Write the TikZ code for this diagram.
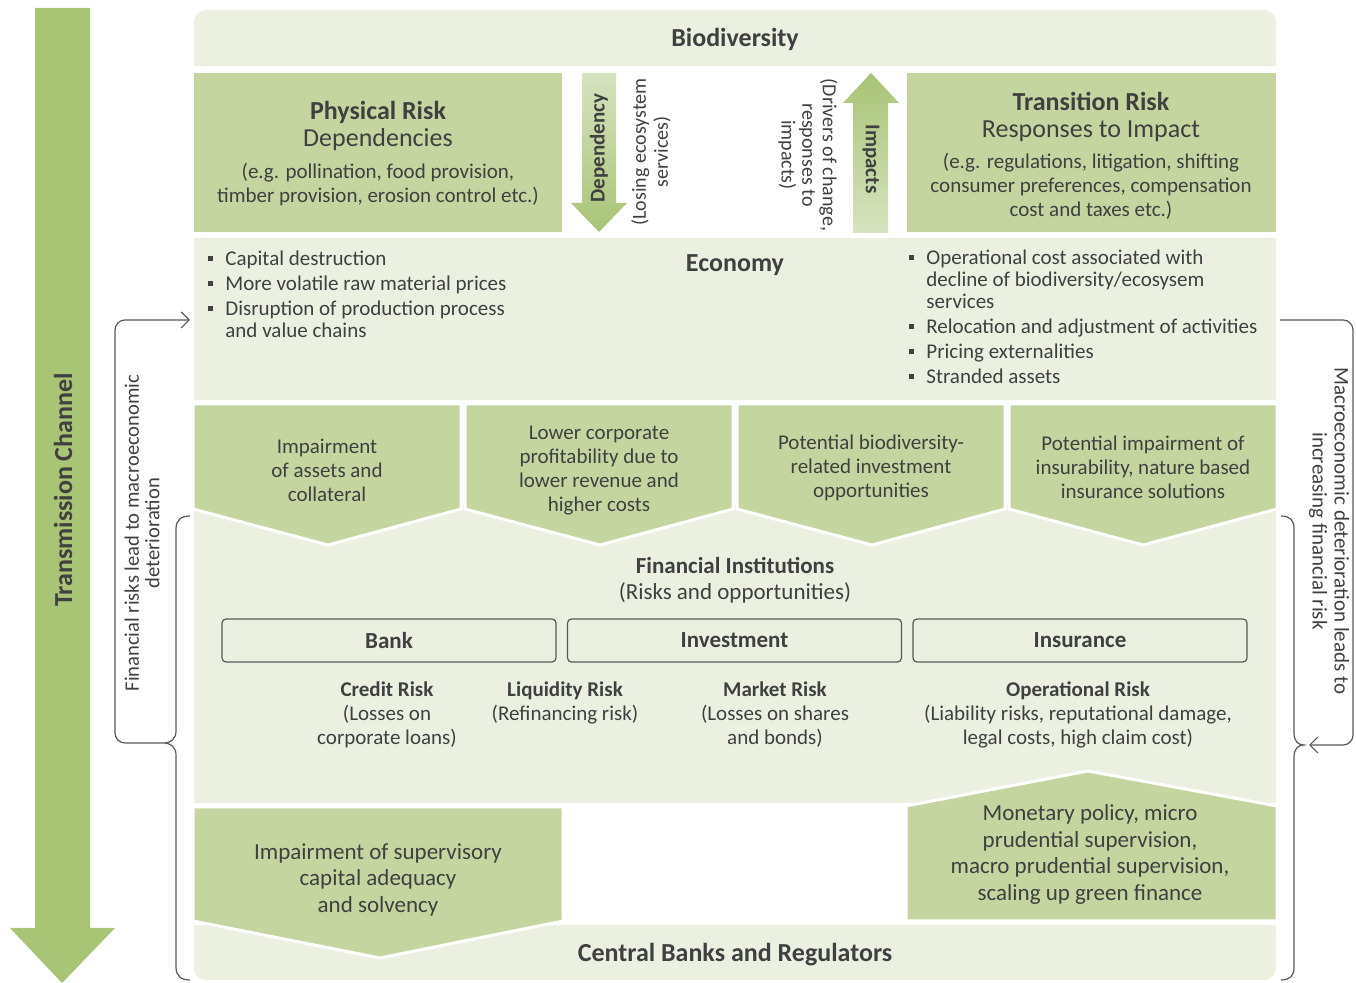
\documentclass[tikz,border=0pt]{standalone}
\usepackage{fontspec}
\setmainfont{Carlito}
\usetikzlibrary{arrows.meta}

\definecolor{midgreen}{HTML}{C4D59F}
\definecolor{lightgreen}{HTML}{EBF0E1}
\definecolor{arrowgreen}{HTML}{A8C475}
\definecolor{arrowpale}{HTML}{E3EBD4}
\definecolor{arrowsoft}{HTML}{D6E3C0}
\definecolor{ink}{HTML}{404040}
\definecolor{lineg}{HTML}{595959}

\newcommand\fsBody{\fontsize{10.5}{12}\selectfont}
\newcommand\fsHead{\fontsize{13}{13.5}\selectfont}
\newcommand\fsMid{\fontsize{11.5}{13.25}\selectfont}
\newcommand\sqbullet{\raisebox{0.22em}{\rule{0.24em}{0.24em}}}

\begin{document}
\begin{tikzpicture}[x=0.5pt,y=-0.5pt,
  txt/.style={text=ink, align=center, inner sep=0pt, font=\fsBody, yshift=-1.25pt},
  headtxt/.style={text=ink, align=center, inner sep=0pt, font=\fsHead\bfseries, yshift=-1.25pt},
  chev/.style={fill=midgreen, draw=white, line width=1.5pt, line join=miter},
  fibox/.style={draw=lineg, line width=0.6pt, rounded corners=2pt, text=ink,
    font=\fsMid\bfseries, minimum width=167pt, minimum height=21.5pt, inner sep=0pt},
  bitem/.style={anchor=base west, align=left, inner sep=0pt, text=ink,
    font=\fontsize{10.5}{11}\selectfont},
  bracket/.style={draw=lineg, line width=0.6pt},
  barb/.style={-{Straight Barb[length=4pt,width=8pt]}}]

\useasboundingbox (0,0) rectangle (1356,983);

% transmission channel arrow
\shade[top color=arrowgreen, middle color=arrowpale, bottom color=arrowgreen]
  (35,8) -- (90,8) -- (90,928) -- (115,928) -- (62,983) -- (10,928) -- (35,928) -- cycle;
\node[text=ink, inner sep=0pt, font=\fsHead\bfseries, rotate=90] (tc) at (63,490) {Transmission Channel};

% biodiversity band
\fill[lightgreen, rounded corners=6pt] (194,10) rectangle (1276,66);
\fill[lightgreen] (194,35) rectangle (1276,66);
\node[headtxt] (bio) at (735,37) {Biodiversity};

% physical and transition risk
\fill[midgreen] (194,73) rectangle (562,232);
\fill[midgreen] (907,73) rectangle (1276,232);
\node[txt, font=\fsHead] (phys) at (378,123) {\textbf{Physical Risk}\\Dependencies};
\node[txt] (physx) at (378,182) {(e.g. pollination, food provision,\\timber provision, erosion control etc.)};
\node[txt, font=\fsHead] (trans) at (1091,114) {\textbf{Transition Risk}\\Responses to Impact};
\node[txt] (transx) at (1091,184) {(e.g. regulations, litigation, shifting\\consumer preferences, compensation\\cost and taxes etc.)};

% dependency and impact arrows
\shade[top color=arrowsoft, bottom color=arrowgreen]
  (582,73) -- (616,73) -- (616,203) -- (627,203) -- (599,232) -- (571,203) -- (582,203) -- cycle;
\shade[top color=arrowgreen, bottom color=arrowsoft]
  (853,233) -- (853,103) -- (843,103) -- (871,73) -- (899,103) -- (888,103) -- (888,233) -- cycle;
\node[text=ink, inner sep=0pt, font=\fsBody\bfseries, rotate=90] (dep) at (599,148) {Dependency};
\node[text=ink, inner sep=0pt, font=\fsBody\bfseries, rotate=-90] (imp) at (871,159) {Impacts};
\node[text=ink, align=center, inner sep=0pt, font=\fontsize{10}{11}\selectfont, rotate=90] (losing) at (651,152) {(Losing ecosystem\\services)};
\node[text=ink, align=center, inner sep=0pt, font=\fontsize{10}{10.3}\selectfont, rotate=-90] (drivers) at (808,155) {(Drivers of change,\\responses to\\impacts)};

% economy band
\fill[lightgreen] (194,238) rectangle (1276,400);
\node[headtxt] (eco) at (735,263) {Economy};
\node[bitem] (e1) at (225,266) {\llap{\sqbullet\hspace{6pt}}Capital destruction};
\node[bitem] (e2) at (225,291) {\llap{\sqbullet\hspace{6pt}}More volatile raw material prices};
\node[bitem] (e3) at (225,338) {\llap{\sqbullet\hspace{6pt}}Disruption of production process\\and value chains};
\node[bitem] (t1) at (926,309) {\llap{\sqbullet\hspace{6pt}}Operational cost associated with\\decline of biodiversity/ecosysem\\services};
\node[bitem] (t2) at (926,334) {\llap{\sqbullet\hspace{6pt}}Relocation and adjustment of activities};
\node[bitem] (t3) at (926,359) {\llap{\sqbullet\hspace{6pt}}Pricing externalities};
\node[bitem] (t4) at (926,384) {\llap{\sqbullet\hspace{6pt}}Stranded assets};

% financial institutions band
\fill[lightgreen] (194,505) rectangle (1276,803);

% transmission chevrons
\draw[chev] (193,404) -- (461,404) -- (461,509) -- (328,545) -- (193,509) -- cycle;
\draw[chev] (465,404) -- (733,404) -- (733,509) -- (600,545) -- (465,509) -- cycle;
\draw[chev] (737,404) -- (1005,404) -- (1005,509) -- (872,545) -- (737,509) -- cycle;
\draw[chev] (1009,404) -- (1277,404) -- (1277,509) -- (1143,545) -- (1009,509) -- cycle;
\node[txt] (c1) at (327,468) {Impairment\\of assets and\\collateral};
\node[txt] (c2) at (599,468) {Lower corporate\\profitability due to\\lower revenue and\\higher costs};
\node[txt] (c3) at (871,465) {Potential biodiversity-\\related investment\\opportunities};
\node[txt] (c4) at (1143,465) {Potential impairment of\\insurability, nature based\\insurance solutions};

\node[txt, font=\fsMid] (fi) at (735,578) {\textbf{Financial Institutions}\\(Risks and opportunities)};
\node[fibox] (bank) at (389,640.5) {Bank};
\node[fibox] (inv) at (734.5,640.5) {Investment};
\node[fibox] (ins) at (1080,640.5) {Insurance};

\node[txt] (credit) at (387,712) {\textbf{Credit Risk}\\(Losses on\\corporate loans)};
\node[txt] (liq) at (565,700) {\textbf{Liquidity Risk}\\(Refinancing risk)};
\node[txt] (market) at (775,712) {\textbf{Market Risk}\\(Losses on shares\\and bonds)};
\node[txt] (oper) at (1078,712) {\textbf{Operational Risk}\\(Liability risks, reputational damage,\\legal costs, high claim cost)};

% central banks band
\fill[lightgreen, rounded corners=6pt] (194,925) rectangle (1276,980);
\fill[lightgreen] (194,925) rectangle (1276,950);
\draw[chev] (193,807) -- (563,807) -- (563,921) -- (380,958) -- (193,921) -- cycle;
\draw[chev] (906,921) -- (906,806) -- (1088,771) -- (1277,806) -- (1277,921) -- cycle;
\node[txt, font=\fsMid] (solv) at (378,877) {Impairment of supervisory\\capital adequacy\\and solvency};
\node[txt, font=\fsMid] (policy) at (1090,852) {Monetary policy, micro\\prudential supervision,\\macro prudential supervision,\\scaling up green finance};
\node[headtxt] (cb) at (735,952) {Central Banks and Regulators};

% feedback loop, left
\coordinate (lbTip) at (190,320);
\coordinate (lbCusp) at (163,743);
\draw[bracket, barb, rounded corners=5pt] (lbCusp) -- (115,743) -- (115,320) -- (lbTip);
\draw[bracket] (190,516) .. controls (181,516) and (176,520) .. (176,529) -- (176,731)
  .. controls (176,739) and (171,743) .. (lbCusp)
  .. controls (171,743) and (176,747) .. (176,755) -- (176,967)
  .. controls (176,976) and (181,980) .. (190,980);
\node[text=ink, align=center, inner sep=0pt, font=\fontsize{10.3}{10.3}\selectfont, rotate=90] (lbText) at (142,533)
  {Financial risks lead to macroeconomic\\deterioration};

% feedback loop, right
\coordinate (rbStart) at (1280,320);
\coordinate (rbTip) at (1309,745);
\draw[bracket, barb, rounded corners=5pt] (rbStart) -- (1353,320) -- (1353,745) -- (rbTip);
\draw[bracket] (1281,516) .. controls (1290,516) and (1294,520) .. (1294,529) -- (1294,733)
  .. controls (1294,741) and (1298,745) .. (1304,745)
  .. controls (1298,745) and (1294,749) .. (1294,757) -- (1294,967)
  .. controls (1294,976) and (1290,980) .. (1281,980);
\node[text=ink, align=center, inner sep=0pt, font=\fontsize{10.5}{11}\selectfont, rotate=-90] (rbText) at (1329,531)
  {Macroeconomic deterioration leads to\\increasing financial risk};

\end{tikzpicture}
\end{document}
